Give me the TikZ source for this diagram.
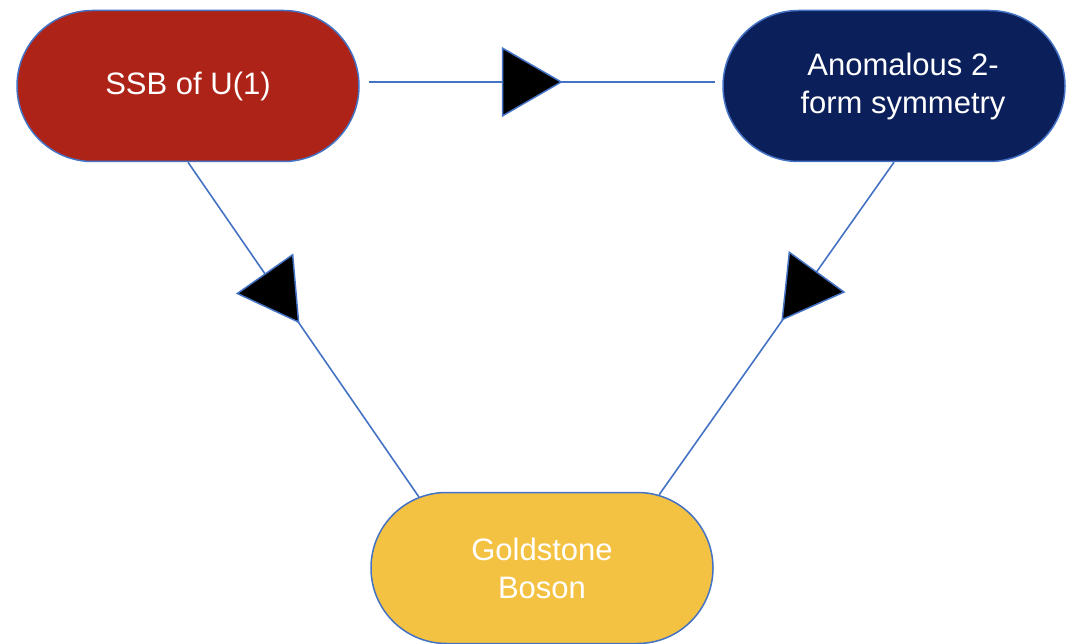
\documentclass[tikz,border=0pt]{standalone}
\usepackage{fontspec}
\setmainfont{Liberation Sans}
\usetikzlibrary{shapes.geometric,shapes.misc}
\definecolor{ssbred}{HTML}{AE2318}
\definecolor{navyblue}{HTML}{0B1F5B}
\definecolor{goldyellow}{HTML}{F4C243}
\definecolor{edgeblue}{HTML}{4472C4}
\begin{document}
\begin{tikzpicture}[x=1pt,y=-1pt,
  stadium/.style={rounded rectangle, draw=edgeblue, line width=1.5pt,
    minimum width=342pt, minimum height=151pt, inner sep=0pt,
    text=white, font=\fontsize{31}{38}\selectfont, align=center},
  conn/.style={draw=edgeblue, line width=1.6pt},
  tri/.style={regular polygon, regular polygon sides=3, fill=black,
    draw=edgeblue, line width=1.5pt, minimum size=78pt, inner sep=0pt}]
\useasboundingbox (0,0) rectangle (1071,644);
\node[stadium, fill=ssbred] (ssb) at (188,86) {SSB of U(1)};
\node[stadium, fill=navyblue] (ano) at (894,86) {\hspace*{18pt}Anomalous 2-\\\hspace*{18pt}form symmetry};
\node[stadium, fill=goldyellow] (gb) at (542,568) {Goldstone\\Boson};
\draw[conn, shorten <=9pt, shorten >=7pt] ([yshift=4pt]ssb.east) -- node[tri, pos=0.448, rotate=-90]{} ([yshift=4pt]ano.west);
\draw[conn] (ssb.south) -- node[tri, pos=0.382, rotate=95]{} (gb.150);
\draw[conn] (ano.south) -- node[tri, pos=0.378, rotate=-96]{} (gb.32);
\end{tikzpicture}
\end{document}
